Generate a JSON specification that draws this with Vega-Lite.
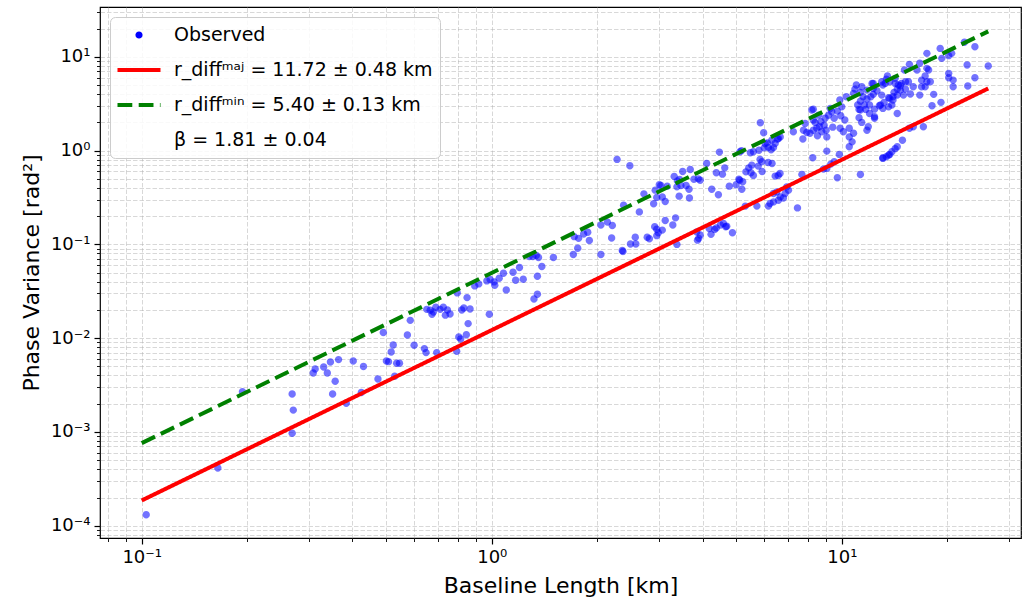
{
  "$schema": "https://vega.github.io/schema/vega-lite/v6.json",
  "width": 921,
  "height": 531,
  "autosize": {"type": "none"},
  "padding": {"left": 100, "top": 7, "right": 2, "bottom": 67},
  "background": "white",
  "config": {
    "font": "DejaVu Sans",
    "view": {"stroke": "black", "strokeWidth": 1.2},
    "axis": {
      "domain": false,
      "grid": true,
      "gridColor": "#b0b0b0",
      "gridOpacity": 0.55,
      "gridDash": [4.5, 2],
      "gridWidth": 0.9,
      "tickColor": "black",
      "labelColor": "black",
      "titleColor": "black",
      "labelFont": "DejaVu Sans",
      "titleFont": "DejaVu Sans",
      "labelFontSize": 18,
      "titleFontSize": 22,
      "titleFontWeight": "normal",
      "labelOverlap": false,
      "labelFlush": false
    }
  },
  "datasets": {
    "pts": [
      {"x":0.103,"y":1.31e-4},{"x":0.165,"y":4.12e-4},{"x":0.194,"y":2.69e-3},{"x":0.269,"y":2.54e-3},{"x":0.271,"y":1.71e-3},{"x":0.269,"y":9.7e-4},{"x":0.309,"y":4.25e-3},{"x":0.313,"y":4.69e-3},{"x":0.331,"y":4.93e-3},{"x":0.339,"y":4.25e-3},{"x":0.346,"y":5.57e-3},{"x":0.365,"y":5.91e-3},{"x":0.357,"y":3.47e-3},{"x":0.351,"y":2.54e-3},{"x":0.384,"y":2.02e-3},{"x":0.402,"y":5.71e-3},{"x":0.430,"y":4.98e-3},{"x":0.424,"y":2.63e-3},{"x":0.473,"y":3.67e-3},
      {"x":0.528,"y":3.92e-3},{"x":0.507,"y":5.62e-3},{"x":0.500,"y":5.7e-3},{"x":0.535,"y":5.40e-3},{"x":0.545,"y":5.40e-3},{"x":0.516,"y":7.13e-3},{"x":0.523,"y":8.46e-3},{"x":0.490,"y":1.15e-2},{"x":0.574,"y":1.08e-2},{"x":0.600,"y":8.40e-3},{"x":0.585,"y":1.55e-2},{"x":0.642,"y":7.74e-3},{"x":0.649,"y":7.02e-3},{"x":0.696,"y":7.02e-3},{"x":0.652,"y":2.03e-2},{"x":0.667,"y":1.99e-2},{"x":0.675,"y":1.80e-2},{"x":0.681,"y":1.90e-2},{"x":0.692,"y":2.14e-2},{"x":0.712,"y":2.03e-2},{"x":0.727,"y":2.14e-2},{"x":0.737,"y":1.76e-2},{"x":0.747,"y":2.00e-2},{"x":0.760,"y":1.81e-2},{"x":0.794,"y":7.25e-3},{"x":0.805,"y":1.03e-2},{"x":0.815,"y":9.80e-3},{"x":0.846,"y":1.09e-2},{"x":0.856,"y":1.43e-2},{"x":0.821,"y":2.00e-2},{"x":0.832,"y":2.10e-2},{"x":0.867,"y":2.05e-2},{"x":0.797,"y":3.04e-2},{"x":0.850,"y":2.71e-2},{"x":0.894,"y":3.61e-2},{"x":0.918,"y":3.79e-2},{"x":0.984,"y":1.80e-2},{"x":0.968,"y":4.08e-2},{"x":0.989,"y":4.22e-2},{"x":1.015,"y":3.98e-2},{"x":1.02,"y":3.67e-2},{"x":1.05,"y":4.36e-2},{"x":1.08,"y":4.93e-2},{"x":1.10,"y":3.27e-2},{"x":1.15,"y":5.05e-2},{"x":1.17,"y":4.15e-2},{"x":1.20,"y":5.67e-2},{"x":1.23,"y":4.25e-2},{"x":1.32,"y":2.62e-2},{"x":1.35,"y":2.94e-2},{"x":1.35,"y":4.58e-2},{"x":1.28,"y":7.43e-2},{"x":1.31,"y":7.43e-2},{"x":1.34,"y":7.61e-2},{"x":1.36,"y":7.25e-2},{"x":1.39,"y":5.81e-2},{"x":1.50,"y":7.25e-2},{"x":1.71,"y":7.80e-2},{"x":1.76,"y":9.11e-2},{"x":1.72,"y":0.121},{"x":1.77,"y":0.116},{"x":1.83,"y":0.129},{"x":1.88,"y":0.135},{"x":1.90,"y":0.110},{"x":2.05,"y":7.80e-2},{"x":2.05,"y":0.161},{"x":2.14,"y":0.173},
      {"x":2.28,"y":0.806},{"x":2.48,"y":0.689},{"x":2.21,"y":0.159},{"x":2.20,"y":0.117},{"x":2.36,"y":8.61e-2},{"x":2.37,"y":8.4e-2},{"x":2.38,"y":0.262},{"x":2.49,"y":0.101},{"x":2.57,"y":0.119},{"x":2.58,"y":0.101},{"x":2.64,"y":0.222},{"x":2.72,"y":0.346},{"x":2.78,"y":0.119},{"x":2.82,"y":0.115},{"x":2.90,"y":0.271},{"x":2.92,"y":0.154},{"x":2.96,"y":0.145},{"x":2.99,"y":0.133},{"x":3.07,"y":0.142},{"x":2.96,"y":0.124},{"x":2.93,"y":0.379},{"x":3.01,"y":0.432},{"x":3.04,"y":0.425},{"x":2.96,"y":0.317},{"x":3.07,"y":0.321},{"x":3.13,"y":0.287},{"x":3.13,"y":0.180},{"x":3.17,"y":0.418},{"x":3.29,"y":0.161},{"x":3.35,"y":0.192},{"x":3.32,"y":0.531},{"x":3.39,"y":0.476},{"x":3.38,"y":0.411},{"x":3.44,"y":0.493},{"x":3.47,"y":0.425},{"x":3.51,"y":0.600},{"x":3.38,"y":0.100},{"x":3.43,"y":0.327},{"x":3.59,"y":0.425},{"x":3.66,"y":0.388},{"x":3.67,"y":0.313},{"x":3.69,"y":0.630},{"x":3.78,"y":0.496},{"x":3.89,"y":0.500},{"x":3.94,"y":0.484},{"x":3.85,"y":0.136},{"x":3.90,"y":0.116},{"x":3.87,"y":0.111},{"x":3.94,"y":0.126},{"x":4.11,"y":0.730},{"x":4.18,"y":0.148},{"x":4.23,"y":0.128},{"x":4.33,"y":0.144},{"x":4.38,"y":0.150},{"x":4.25,"y":0.388},{"x":4.44,"y":0.338},{"x":4.38,"y":0.580},{"x":4.56,"y":0.561},{"x":4.63,"y":0.655},{"x":4.47,"y":0.964},{"x":4.50,"y":0.161},{"x":4.59,"y":0.167},{"x":4.66,"y":0.154},{"x":4.69,"y":0.156},{"x":4.87,"y":0.133},{"x":4.77,"y":0.418},{"x":4.99,"y":0.432},{"x":5.08,"y":0.496},{"x":5.11,"y":0.484},{"x":5.21,"y":0.465},{"x":5.18,"y":0.388},{"x":5.32,"y":0.594},{"x":5.42,"y":0.655},{"x":5.50,"y":0.580},{"x":5.53,"y":0.700},{"x":5.59,"y":0.544},{"x":5.48,"y":0.948},{"x":5.59,"y":0.971},{"x":5.80,"y":1.01},{"x":5.84,"y":0.806},{"x":5.92,"y":0.600},{"x":5.77,"y":0.684},{"x":5.85,"y":1.98},{"x":5.98,"y":1.55},{"x":6.00,"y":1.07},{"x":6.17,"y":1.08},{"x":6.28,"y":1.02},{"x":6.38,"y":1.08},{"x":6.13,"y":1.21},{"x":6.16,"y":0.748},{"x":6.32,"y":0.730},{"x":6.45,"y":0.535},{"x":6.58,"y":0.544},{"x":6.17,"y":0.256},{"x":6.24,"y":0.273},{"x":6.59,"y":0.296},{"x":5.72,"y":0.256},
      {"x":6.45,"y":1.19},{"x":6.66,"y":0.571},{"x":5.91,"y":0.760},{"x":6.59,"y":1.35},{"x":6.67,"y":1.40},{"x":7.27,"y":1.59},{"x":7.77,"y":1.65},{"x":7.74,"y":1.33},{"x":7.94,"y":1.56},{"x":8.11,"y":1.53},{"x":8.29,"y":1.65},{"x":8.48,"y":1.73},{"x":8.63,"y":1.80},{"x":8.39,"y":2.00},{"x":8.71,"y":2.03},{"x":8.90,"y":1.87},{"x":9.02,"y":1.65},{"x":9.06,"y":1.40},{"x":8.77,"y":1.59},{"x":8.52,"y":1.44},{"x":8.29,"y":2.77},{"x":8.58,"y":2.39},{"x":8.96,"y":2.21},{"x":9.16,"y":2.39},{"x":9.36,"y":2.60},{"x":9.51,"y":2.21},{"x":9.71,"y":2.64},{"x":9.93,"y":2.35},{"x":9.42,"y":1.78},{"x":7.86,"y":1.95},{"x":8.26,"y":0.838},{"x":9.06,"y":0.988},{"x":9.84,"y":0.911},{"x":10.5,"y":1.10},{"x":10.7,"y":1.24},{"x":7.69,"y":0.557},{"x":9.71,"y":0.513},{"x":9.06,"y":0.646},{"x":9.30,"y":0.718},{"x":9.51,"y":0.760},{"x":8.86,"y":0.635},{"x":11.3,"y":0.557},{"x":7.47,"y":0.245},{"x":6.81,"y":0.313},{"x":7.04,"y":0.379},{"x":6.89,"y":0.349},
      {"x":10.9,"y":4.53},{"x":11.3,"y":4.18},{"x":11.5,"y":3.75},{"x":11.8,"y":3.55},{"x":12.1,"y":3.75},{"x":12.3,"y":3.98},{"x":12.3,"y":5.21},{"x":13.4,"y":5.79},{"x":13.1,"y":5.00},{"x":13.6,"y":3.66},{"x":13.2,"y":3.27},{"x":12.8,"y":3.01},{"x":12.4,"y":2.77},{"x":12.4,"y":2.30},{"x":11.8,"y":1.65},{"x":11.2,"y":2.24},{"x":11.4,"y":2.00},{"x":11.1,"y":3.06},{"x":11.6,"y":3.06},{"x":12.0,"y":3.06},{"x":11.3,"y":3.37},{"x":10.5,"y":1.73},{"x":10.5,"y":1.40},{"x":13.1,"y":0.826},{"x":13.7,"y":0.911},{"x":10.0,"y":2.93},
      {"x":13.5,"y":6.24},{"x":13.0,"y":5.42},{"x":13.3,"y":5.21},{"x":13.7,"y":5.42},{"x":14.2,"y":5.21},{"x":12.2,"y":5.21},{"x":12.3,"y":4.61},{"x":10.8,"y":4.08},{"x":11.2,"y":2.75},{"x":11.7,"y":2.75},{"x":13.7,"y":3.61},{"x":14.0,"y":3.75},{"x":14.4,"y":3.91},{"x":13.6,"y":2.93},{"x":13.1,"y":2.82},{"x":10.2,"y":2.12},{"x":10.1,"y":1.59},{"x":10.8,"y":1.53},
      {"x":5.12,"y":0.971},{"x":5.17,"y":1.00},{"x":6.31,"y":1.29},{"x":6.04,"y":1.19},{"x":6.55,"y":1.32},{"x":8.21,"y":2.71},{"x":8.29,"y":2.12},{"x":6.52,"y":0.363},{"x":6.96,"y":0.411},{"x":6.38,"y":0.349},
      {"x":17.5,"y":10.9},{"x":19.1,"y":12.3},{"x":19.3,"y":9.64},{"x":20.2,"y":10.3},{"x":20.6,"y":10.9},{"x":22.4,"y":14.3},{"x":24.0,"y":12.8},{"x":22.8,"y":8.18},{"x":26.2,"y":7.98},{"x":24.0,"y":5.98},{"x":22.9,"y":4.88},{"x":20.2,"y":6.67},{"x":20.2,"y":5.98},{"x":20.8,"y":5.65},{"x":20.8,"y":4.80},{"x":19.2,"y":3.27},{"x":18.1,"y":3.01},{"x":18.3,"y":3.98},{"x":17.5,"y":7.54},{"x":17.7,"y":7.23},{"x":17.3,"y":6.24},{"x":17.5,"y":5.42},{"x":17.9,"y":5.42},{"x":17.3,"y":4.80},{"x":16.9,"y":4.80},{"x":16.7,"y":3.91},{"x":16.9,"y":5.65},{"x":16.4,"y":7.23},{"x":16.7,"y":8.53},{"x":15.6,"y":8.32},{"x":15.1,"y":7.23},{"x":14.2,"y":5.90},{"x":14.5,"y":5.00},{"x":14.8,"y":5.21},{"x":15.2,"y":5.42},{"x":15.5,"y":5.42},{"x":16.0,"y":4.80},{"x":15.2,"y":4.53},{"x":14.7,"y":4.42},{"x":12.9,"y":3.06},{"x":13.9,"y":3.06},{"x":14.4,"y":2.49},{"x":15.0,"y":3.91},{"x":15.7,"y":4.01},{"x":17.1,"y":1.80},{"x":15.6,"y":1.73},{"x":16.0,"y":1.80},{"x":14.9,"y":1.29},{"x":13.1,"y":0.838},{"x":13.4,"y":0.859},{"x":13.6,"y":0.895},{"x":13.9,"y":0.971},{"x":14.2,"y":1.05},{"x":14.4,"y":1.10},{"x":13.0,"y":3.91},{"x":14.1,"y":4.18},{"x":14.4,"y":4.53},{"x":14.7,"y":4.92},
      {"x":5.30,"y":0.256},{"x":6.38,"y":0.284},{"x":6.67,"y":0.321},
      {"x":14.0,"y":3.46},{"x":12.4,"y":2.21},{"x":11.0,"y":5.00},{"x":11.4,"y":4.80},{"x":11.8,"y":4.42},{"x":12.6,"y":4.35},{"x":9.87,"y":3.46},{"x":10.3,"y":3.75},{"x":12.0,"y":2.49},{"x":11.3,"y":2.71},{"x":11.9,"y":1.80},{"x":9.27,"y":2.82},{"x":9.89,"y":1.73}
    ],
    "fits": [
      {"series": "maj", "x": 0.1, "y": 1.86e-4},
      {"series": "maj", "x": 26.2, "y": 4.6},
      {"series": "min", "x": 0.1, "y": 7.6e-4},
      {"series": "min", "x": 26.2, "y": 18.7}
    ]
  },
  "layer": [
    {
      "data": {"name": "pts"},
      "mark": {"type": "point", "filled": true, "size": 1963, "fillOpacity": 0.55, "strokeWidth": 0},
      "encoding": {
        "x": {
          "field": "x", "type": "quantitative",
          "scale": {"type": "log", "domain": [0.076, 32.5], "nice": false},
          "axis": {
            "title": "Baseline Length [km]",
            "titlePadding": 9,
            "labelPadding": 4,
            "values": [0.08,0.09,0.1,0.2,0.3,0.4,0.5,0.6,0.7,0.8,0.9,1,2,3,4,5,6,7,8,9,10,20,30],
            "labelExpr": "abs(log(datum.value)/LN10 - round(log(datum.value)/LN10)) < 0.001 ? '10' + (round(log(datum.value)/LN10) < 0 ? '⁻' : '') + ['⁰','¹','²','³','⁴','⁵'][abs(round(log(datum.value)/LN10))] : ''",
            "tickSize": {"condition": {"test": "abs(log(datum.value)/LN10 - round(log(datum.value)/LN10)) < 0.001", "value": 6}, "value": 3.5},
            "tickWidth": {"condition": {"test": "abs(log(datum.value)/LN10 - round(log(datum.value)/LN10)) < 0.001", "value": 1.2}, "value": 0.9}
          }
        },
        "y": {
          "field": "y", "type": "quantitative",
          "scale": {"type": "log", "domain": [7.4e-5, 34], "nice": false},
          "axis": {
            "title": "Phase Variance [rad²]",
            "titlePadding": 7,
            "labelPadding": 4,
            "values": [0.00008,0.00009,0.0001,0.0002,0.0003,0.0004,0.0005,0.0006,0.0007,0.0008,0.0009,0.001,0.002,0.003,0.004,0.005,0.006,0.007,0.008,0.009,0.01,0.02,0.03,0.04,0.05,0.06,0.07,0.08,0.09,0.1,0.2,0.3,0.4,0.5,0.6,0.7,0.8,0.9,1,2,3,4,5,6,7,8,9,10,20,30],
            "labelExpr": "abs(log(datum.value)/LN10 - round(log(datum.value)/LN10)) < 0.001 ? '10' + (round(log(datum.value)/LN10) < 0 ? '⁻' : '') + ['⁰','¹','²','³','⁴','⁵'][abs(round(log(datum.value)/LN10))] : ''",
            "tickSize": {"condition": {"test": "abs(log(datum.value)/LN10 - round(log(datum.value)/LN10)) < 0.001", "value": 6}, "value": 3.5},
            "tickWidth": {"condition": {"test": "abs(log(datum.value)/LN10 - round(log(datum.value)/LN10)) < 0.001", "value": 1.2}, "value": 0.9}
          }
        },
        "shape": {
          "datum": "Observed", "type": "nominal", "title": null,
          "scale": {"domain": ["Observed", "maj", "min", "beta"], "range": ["M-0.167,0A0.167,0.167,0,1,1,0.167,0A0.167,0.167,0,1,1,-0.167,0Z", "stroke", "stroke", "M-0.167,0A0.167,0.167,0,1,1,0.167,0A0.167,0.167,0,1,1,-0.167,0Z"]}
        },
        "color": {
          "datum": "Observed", "type": "nominal", "title": null,
          "scale": {"domain": ["Observed", "maj", "min", "beta"], "range": ["#0000ff", "#ff0000", "#008000", "rgba(0,0,0,0)"]},
          "legend": {
            "title": null,
            "orient": "top-left",
            "offset": 10,
            "labelExpr": "datum.value === 'Observed' ? 'Observed' : datum.value === 'maj' ? 'r_diffᵐᵃʲ = 11.72 ± 0.48 km' : datum.value === 'min' ? 'r_diffᵐⁱⁿ = 5.40 ± 0.13 km' : 'β = 1.81 ± 0.04'",
            "labelFont": "DejaVu Sans",
            "labelFontSize": 19,
            "labelColor": "black",
            "labelLimit": 500,
            "symbolSize": 1850,
            "symbolStrokeWidth": 4,
            "symbolOffset": -2,
            "labelOffset": 11,
            "clipHeight": 22,
            "padding": 7,
            "rowPadding": 13,
            "fillColor": "rgba(255,255,255,0.85)",
            "strokeColor": "#cccccc",
            "cornerRadius": 5
          }
        }
      }
    },
    {
      "data": {"name": "fits"},
      "mark": {"type": "line", "strokeWidth": 4},
      "encoding": {
        "x": {"field": "x", "type": "quantitative"},
        "y": {"field": "y", "type": "quantitative"},
        "color": {"field": "series", "type": "nominal", "title": null},
        "strokeDash": {
          "field": "series", "type": "nominal", "title": null,
          "scale": {"domain": ["Observed", "maj", "min", "beta"], "range": [[0.001, 1000], [1, 0], [14.8, 6.4], [0.001, 1000]]}
        }
      }
    }
  ]
}
